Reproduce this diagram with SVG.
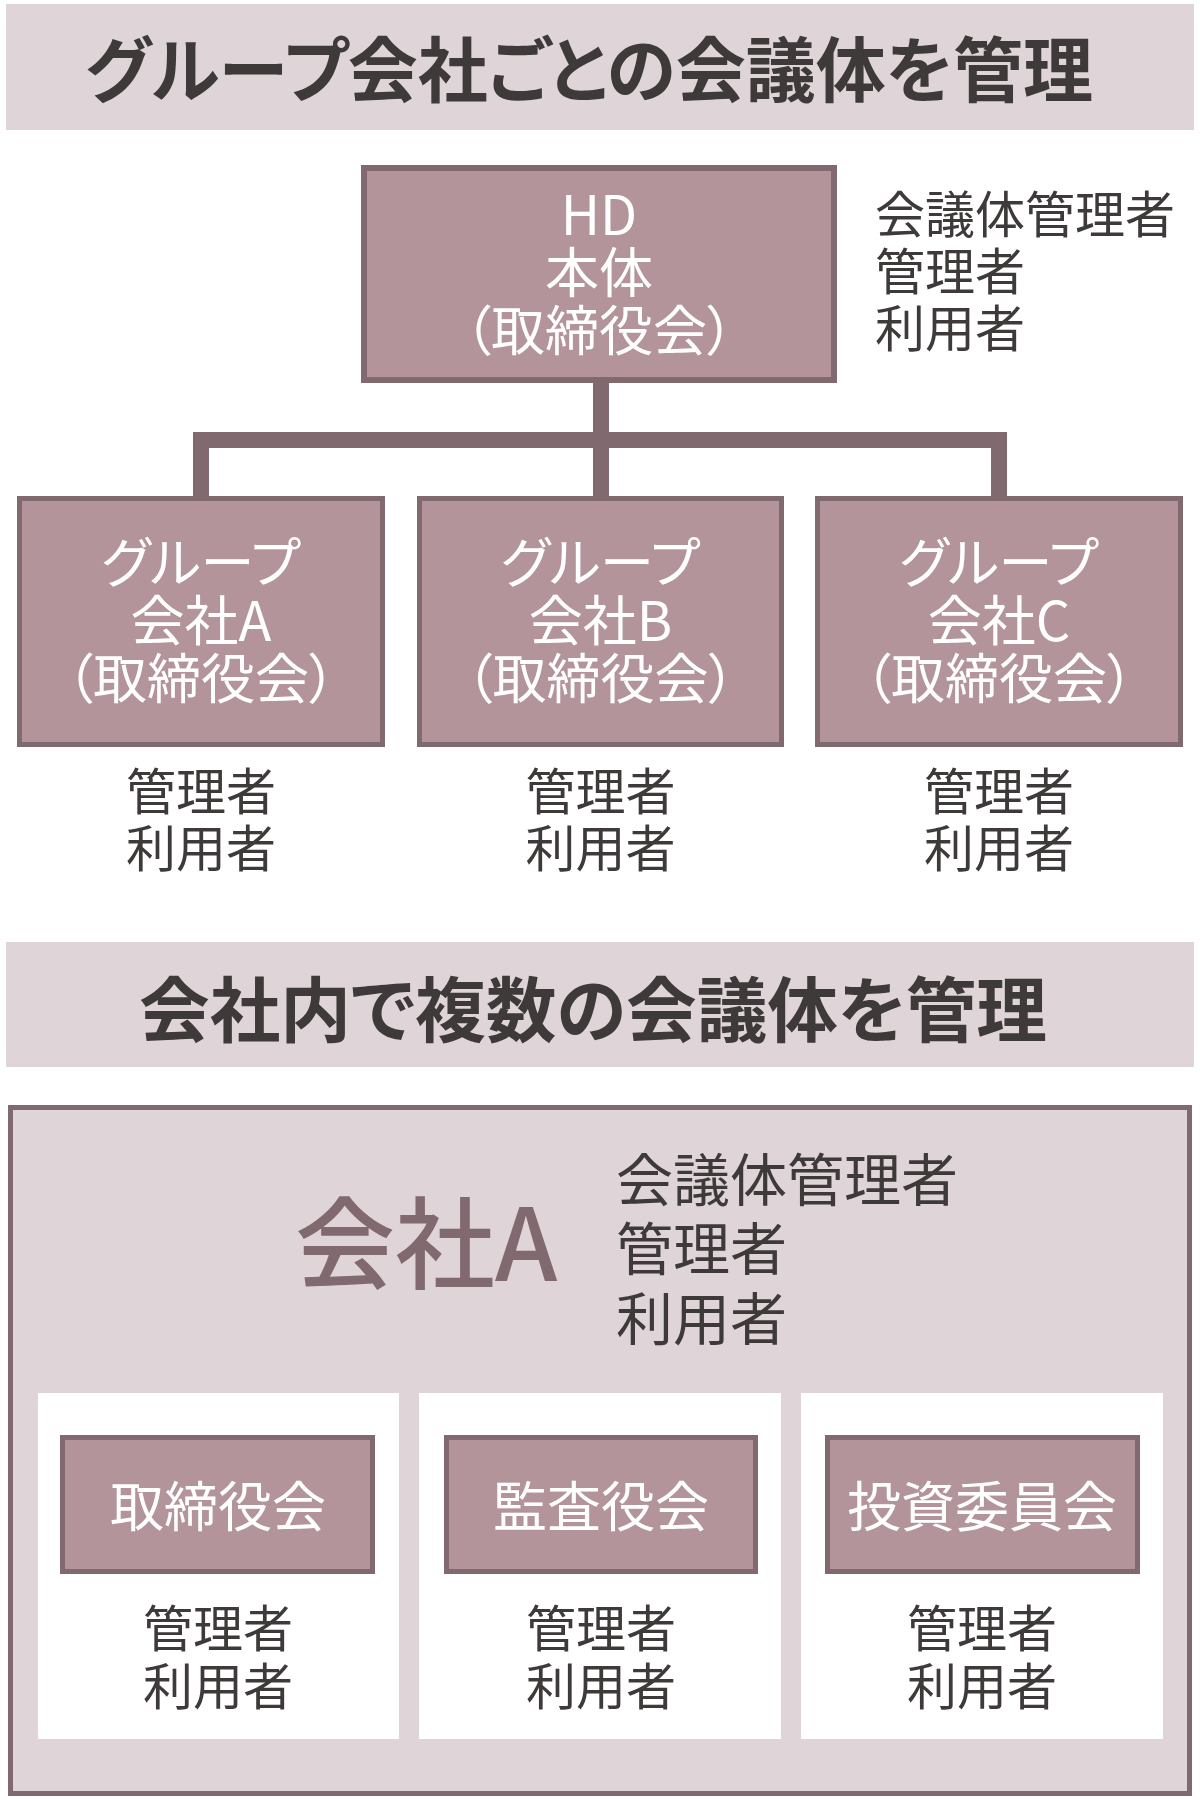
<svg xmlns="http://www.w3.org/2000/svg" width="1200" height="1800" viewBox="0 0 1200 1800">
<style>
text{font-family:"Noto Sans CJK JP","Noto Sans CJK SC",sans-serif;font-feature-settings:"palt";}
.band{fill:#DFD5D8;}
.title{font-size:71px;font-weight:700;fill:#3E3A39;text-anchor:middle;}
.box{fill:#B3949B;stroke:#806A6F;stroke-width:5;}
.hd{fill:#B3949B;stroke:#806A6F;stroke-width:6;}
.wt{fill:#FFFFFF;font-size:54px;text-anchor:middle;}
.lbl{fill:#3E3A39;font-size:50px;}
.lblc{fill:#3E3A39;font-size:50px;text-anchor:middle;}
.conn{stroke:#806A6F;stroke-width:16;fill:none;}
.panel{fill:#FFFFFF;}
</style>
<rect width="1200" height="1800" fill="#FFFFFF"/>

<g id="title1">
<rect class="band" x="6" y="4" width="1188" height="126"/>
<text class="title" x="589" y="96" textLength="1008" lengthAdjust="spacingAndGlyphs">グループ会社ごとの会議体を管理</text>
</g>

<g id="connectors">
<line class="conn" x1="601" y1="383" x2="601" y2="496"/>
<polyline class="conn" points="201,496 201,440 999,440 999,496"/>
</g>

<g id="hd">
<rect class="hd" x="364" y="168" width="470" height="212"/>
<text class="wt" x="599" y="235">HD</text>
<text class="wt" x="599" y="293">本体</text>
<text class="wt" x="599" y="351">（取締役会）</text>
</g>
<g id="hd-roles">
<text class="lbl" x="875" y="233">会議体管理者</text>
<text class="lbl" x="875" y="290">管理者</text>
<text class="lbl" x="875" y="347">利用者</text>
</g>

<g id="group-a">
<rect class="box" x="19.5" y="498.5" width="363" height="246"/>
<text class="wt" x="201" y="583">グループ</text>
<text class="wt" x="201" y="641">会社A</text>
<text class="wt" x="201" y="699">（取締役会）</text>
<text class="lblc" x="201" y="810">管理者</text>
<text class="lblc" x="201" y="867">利用者</text>
</g>
<g id="group-b">
<rect class="box" x="419.5" y="498.5" width="362" height="246"/>
<text class="wt" x="600.5" y="583">グループ</text>
<text class="wt" x="600.5" y="641">会社B</text>
<text class="wt" x="600.5" y="699">（取締役会）</text>
<text class="lblc" x="600.5" y="810">管理者</text>
<text class="lblc" x="600.5" y="867">利用者</text>
</g>
<g id="group-c">
<rect class="box" x="817.5" y="498.5" width="363" height="246"/>
<text class="wt" x="999" y="583">グループ</text>
<text class="wt" x="999" y="641">会社C</text>
<text class="wt" x="999" y="699">（取締役会）</text>
<text class="lblc" x="999" y="810">管理者</text>
<text class="lblc" x="999" y="867">利用者</text>
</g>

<g id="title2">
<rect class="band" x="6" y="942" width="1188" height="125"/>
<text class="title" x="593" y="1036" textLength="908" lengthAdjust="spacingAndGlyphs">会社内で複数の会議体を管理</text>
</g>

<g id="company-a">
<rect x="10.5" y="1107.5" width="1179" height="686" fill="#DFD5D8" stroke="#806A6F" stroke-width="5"/>
<text x="295" y="1281" font-size="100" font-weight="500" fill="#806A6F">会社A</text>
<text x="616" y="1201" font-size="57" fill="#3E3A39">会議体管理者</text>
<text x="616" y="1270" font-size="57" fill="#3E3A39">管理者</text>
<text x="616" y="1340" font-size="57" fill="#3E3A39">利用者</text>
</g>

<g id="board">
<rect class="panel" x="38" y="1393" width="361" height="346"/>
<rect class="box" x="62.5" y="1437.5" width="310" height="134"/>
<text class="wt" x="218" y="1527">取締役会</text>
<text class="lblc" x="218" y="1647">管理者</text>
<text class="lblc" x="218" y="1705">利用者</text>
</g>
<g id="audit">
<rect class="panel" x="419" y="1393" width="362" height="346"/>
<rect class="box" x="446.5" y="1437.5" width="309" height="134"/>
<text class="wt" x="601" y="1527">監査役会</text>
<text class="lblc" x="601" y="1647">管理者</text>
<text class="lblc" x="601" y="1705">利用者</text>
</g>
<g id="investment">
<rect class="panel" x="801" y="1393" width="362" height="346"/>
<rect class="box" x="827.5" y="1437.5" width="310" height="134"/>
<text class="wt" x="982" y="1527">投資委員会</text>
<text class="lblc" x="982" y="1647">管理者</text>
<text class="lblc" x="982" y="1705">利用者</text>
</g>
</svg>
